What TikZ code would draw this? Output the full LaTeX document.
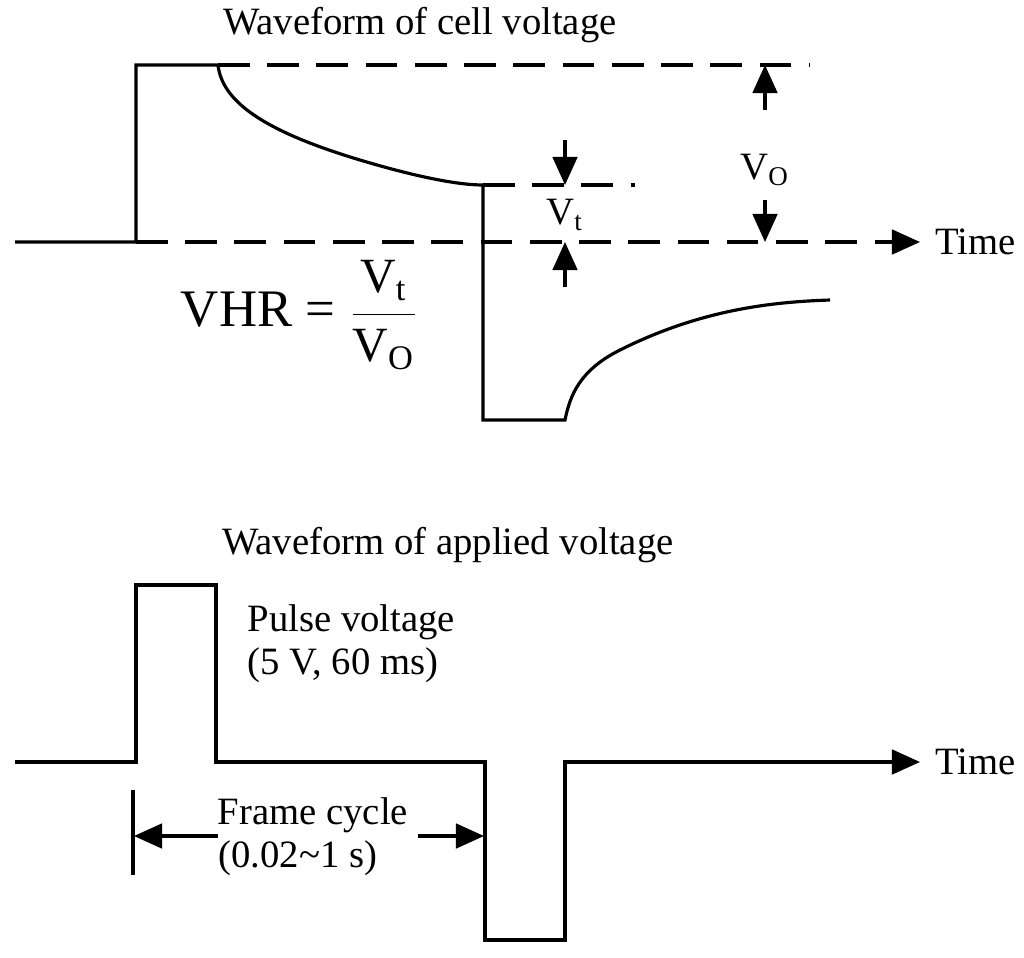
\documentclass[tikz,border=0pt]{standalone}
\usepackage{fontspec}
\setmainfont{Liberation Serif}
\usetikzlibrary{arrows.meta}
\begin{document}
\begin{tikzpicture}[x=0.01cm,y=-0.01cm,
  wave/.style={line width=0.9pt},
  dashln/.style={line width=0.9pt,dash pattern=on 9pt off 5pt},
  arr/.style={line width=0.9pt,-{Triangle[length=8pt,width=7pt]}},
  lbl/.style={font=\fontsize{11}{13}\selectfont,inner sep=0pt}]
\useasboundingbox (0,0) rectangle (1024,957);
% top waveform
\draw[wave] (15,242) -- (136,242) -- (136,65) -- (218,65)
  .. controls (222,100) and (260,130) .. (360,160) .. controls (420,178) and (460,185) .. (483,185)
  -- (483,420) -- (565,420) .. controls (570,395) and (580,370) .. (620,350)
  .. controls (700,310) and (770,302) .. (830,300);
\draw[dashln] (218,65) -- (810,65);
\draw[dashln] (483,185) -- (635,185);
\draw[dashln] (136,242) -- (900,242);
\coordinate (t1a) at (880,242);
\coordinate (t1b) at (920,242);
\draw[arr] (t1a) -- (t1b);
\node[lbl,anchor=west] (time1) at (935,242) {Time};
\node[lbl] (title1) at (420,25) {Waveform of cell voltage};
% Vo
\coordinate (vo1) at (765,110); \coordinate (vo2) at (765,65);
\coordinate (vo3) at (765,200); \coordinate (vo4) at (765,242);
\draw[arr] (vo1) -- (vo2); \draw[arr] (vo3) -- (vo4);
\node[lbl] (vo) at (765,170) {V\textsubscript{O}};
% Vt
\coordinate (vt1) at (565,140); \coordinate (vt2) at (565,185);
\coordinate (vt3) at (565,287); \coordinate (vt4) at (565,242);
\draw[arr] (vt1) -- (vt2); \draw[arr] (vt3) -- (vt4);
\node[lbl] (vt) at (565,215) {V\textsubscript{t}};
\node[inner sep=0pt,font=\fontsize{15}{17}\selectfont] (vhr) at (300,315) {VHR = $\displaystyle\frac{\mbox{\fontsize{14}{16}\selectfont V\textsubscript{t}}}{\mbox{\fontsize{14}{16}\selectfont V\textsubscript{O}}}$};
% bottom waveform
\draw[wave] (15,762) -- (136,762) -- (136,585) -- (216,585) -- (216,762) -- (485,762)
  -- (485,940) -- (565,940) -- (565,762) -- (900,762);
\coordinate (t2a) at (880,762); \coordinate (t2b) at (920,762);
\draw[arr] (t2a) -- (t2b);
\node[lbl,anchor=west] (time2) at (935,762) {Time};
\node[lbl] (title2) at (448,545) {Waveform of applied voltage};
\node[lbl,anchor=west] (pulse) at (247,622) {Pulse voltage};
\node[lbl,anchor=west] (pulse2) at (247,665) {(5 V, 60 ms)};
\coordinate (tk1) at (133,790); \coordinate (tk2) at (133,875);
\draw[line width=0.9pt] (tk1) -- (tk2);
\coordinate (fa1) at (218,836); \coordinate (fa2) at (134,836);
\coordinate (fb1) at (418,836); \coordinate (fb2) at (484,836);
\draw[arr] (fa1) -- (fa2); \draw[arr] (fb1) -- (fb2);
\node[lbl] (frame) at (313,815) {Frame cycle};
\node[lbl,anchor=west] (frame2) at (218,858) {(0.02\textasciitilde 1 s)};
\end{tikzpicture}
\end{document}
